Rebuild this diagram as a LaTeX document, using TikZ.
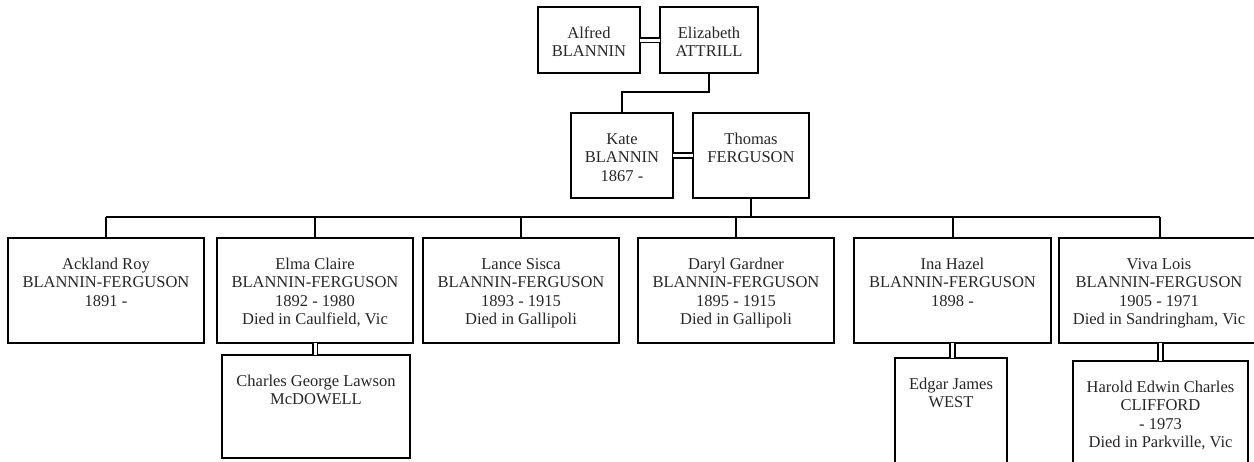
\documentclass[tikz,border=0pt]{standalone}
\usepackage{fontspec}
\setmainfont{Liberation Serif}
\newcommand{\firststrut}{\rule{0pt}{13pt}}
\begin{document}
\begin{tikzpicture}[x=1pt,y=-1pt,
  person/.style={draw=black, line width=2pt, rectangle, inner sep=0pt, outer sep=0pt, anchor=north west},
  txt/.style={anchor=north, inner sep=0pt, align=center, text=black!85, font=\fontsize{16.5}{18.5}\selectfont},
  link/.style={draw=black, line width=2pt},
  marriage/.style={draw=black, line width=1.8pt, double=white, double distance=3pt}]
\clip (0,0) rectangle (1254,461);
% boxes
\node[person, minimum width=102pt, minimum height=66pt] (alfred) at (538,7) {};
\node[person, minimum width=98pt, minimum height=66pt] (elizabeth) at (660,7) {};
\node[person, minimum width=102pt, minimum height=85pt] (kate) at (571,113) {};
\node[person, minimum width=116pt, minimum height=85pt] (thomas) at (693,113) {};
\node[person, minimum width=196pt, minimum height=105pt] (ackland) at (8,238) {};
\node[person, minimum width=196pt, minimum height=105pt] (elma) at (217,238) {};
\node[person, minimum width=196pt, minimum height=105pt] (lance) at (423,238) {};
\node[person, minimum width=196pt, minimum height=105pt] (daryl) at (638,238) {};
\node[person, minimum width=197pt, minimum height=105pt] (ina) at (854,238) {};
\node[person, minimum width=202pt, minimum height=105pt] (viva) at (1059,238) {};
\node[person, minimum width=188pt, minimum height=103pt] (charles) at (222,355) {};
\node[person, minimum width=112pt, minimum height=120pt] (edgar) at (895,358) {};
\node[person, minimum width=175pt, minimum height=120pt] (harold) at (1073,361) {};
% texts
\node[txt] (talfred) at ([yshift=-18pt]alfred.north) {\firststrut Alfred\\BLANNIN};
\node[txt] (telizabeth) at ([yshift=-18pt]elizabeth.north) {\firststrut Elizabeth\\ATTRILL};
\node[txt] (tkate) at ([yshift=-18pt]kate.north) {\firststrut Kate\\BLANNIN\\1867 -};
\node[txt] (tthomas) at ([yshift=-18pt]thomas.north) {\firststrut Thomas\\FERGUSON};
\node[txt] (tackland) at ([yshift=-18pt]ackland.north) {\firststrut Ackland Roy\\BLANNIN-FERGUSON\\1891 -};
\node[txt] (telma) at ([yshift=-18pt]elma.north) {\firststrut Elma Claire\\BLANNIN-FERGUSON\\1892 - 1980\\Died in Caulfield, Vic};
\node[txt] (tlance) at ([yshift=-18pt]lance.north) {\firststrut Lance Sisca\\BLANNIN-FERGUSON\\1893 - 1915\\Died in Gallipoli};
\node[txt] (tdaryl) at ([yshift=-18pt]daryl.north) {\firststrut Daryl Gardner\\BLANNIN-FERGUSON\\1895 - 1915\\Died in Gallipoli};
\node[txt] (tina) at ([yshift=-18pt]ina.north) {\firststrut Ina Hazel\\BLANNIN-FERGUSON\\1898 -};
\node[txt] (tviva) at ([yshift=-18pt,xshift=-1pt]viva.north) {\firststrut Viva Lois\\BLANNIN-FERGUSON\\1905 - 1971\\Died in Sandringham, Vic};
\node[txt] (tcharles) at ([yshift=-18pt]charles.north) {\firststrut Charles George Lawson\\McDOWELL};
\node[txt] (tedgar) at ([yshift=-18pt]edgar.north) {\firststrut Edgar James\\WEST};
\node[txt] (tharold) at ([yshift=-18pt]harold.north) {\firststrut Harold Edwin Charles\\CLIFFORD\\- 1973\\Died in Parkville, Vic};
% marriages
\draw[marriage] (alfred.east) -- (elizabeth.west);
\draw[marriage] (kate.east) -- (thomas.west);
\draw[marriage] (elma.south) -- (elma.south |- charles.north);
\draw[marriage] (ina.south) -- (ina.south |- edgar.north);
\draw[marriage] (viva.south -| harold.north) -- (harold.north);
% descent
\draw[link] (elizabeth.south) -- ++(0,19) -| (kate.north);
\coordinate (busL) at (106,217);
\coordinate (busR) at (1160,217);
\draw[link] (busL) -- (busR);
\draw[link] (thomas.south) -- (thomas.south |- busL);
\draw[link] (ackland.north) -- (ackland.north |- busL);
\draw[link] (elma.north) -- (elma.north |- busL);
\draw[link] (lance.north) -- (lance.north |- busL);
\draw[link] (daryl.north) -- (daryl.north |- busL);
\draw[link] (ina.north) -- (ina.north |- busL);
\draw[link] (viva.north -| busR) -- (busR);
\end{tikzpicture}
\end{document}
